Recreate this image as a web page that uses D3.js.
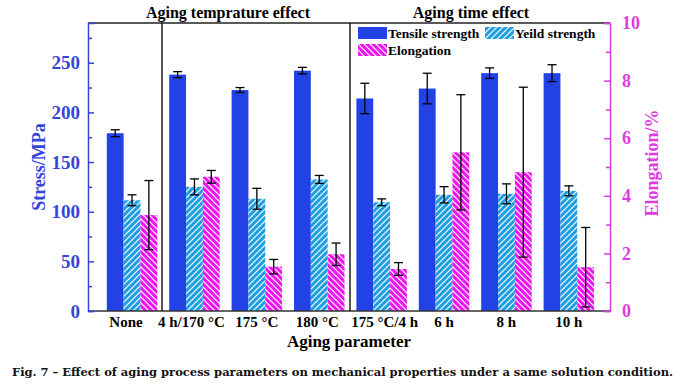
<!DOCTYPE html>
<html>
<head>
<meta charset="utf-8">
<script src="https://cdn.jsdelivr.net/npm/d3@7"></script>
<style>
  body { margin: 0; background: #fff; }
  svg { display: block; font-family: "Liberation Serif", "Times New Roman", serif; font-weight: bold; }
</style>
</head>
<body>
<svg id="chart" width="682" height="386"></svg>
<script>
  // ---- data ----
  const categories = ["None", "4 h/170 °C", "175 °C", "180 °C", "175 °C/4 h", "6 h", "8 h", "10 h"];
  const tensile = [179, 238, 222.5, 242, 214, 224, 239.5, 239.5];
  const tensileErr = [3.5, 3, 2.5, 3.3, 15.3, 15.4, 5.3, 8.5];
  const yieldS = [111.5, 125, 113, 132.5, 109.5, 117, 118, 121];
  const yieldErr = [5.5, 8, 10.5, 4, 3.4, 8.2, 10, 5];
  const elong = [3.33, 4.66, 1.54, 1.97, 1.46, 5.51, 4.82, 1.52];
  const elongErr = [1.2, 0.22, 0.25, 0.39, 0.22, 2.0, 2.95, 1.38];
  const leftTicks = [0, 50, 100, 150, 200, 250];
  const leftMinor = [25, 75, 125, 175, 225, 275];
  const rightTicks = [0, 2, 4, 6, 8, 10];
  const rightMinor = [1, 3, 5, 7, 9];

  const BLUE = "#2342E6";
  const LBLUE = "#1E9FE2";
  const MAG = "#EE16EE";
  const LEFT_TXT = "#3346D8";
  const RIGHT_TXT = "#E03BE0";

  const P = { l: 88, r: 610, t: 23, b: 311 };
  const svg = d3.select("#chart");

  // hatch patterns
  const defs = svg.append("defs");
  function hatch(id, color, dir) {
    const p = defs.append("pattern")
      .attr("id", id)
      .attr("patternUnits", "userSpaceOnUse")
      .attr("width", 6).attr("height", 6);
    p.append("rect").attr("width", 6).attr("height", 6).attr("fill", color);
    const d = dir === "/"
      ? "M-1,1 l2,-2 M0,6 l6,-6 M5,7 l2,-2"
      : "M-1,5 l2,2 M0,0 l6,6 M5,-1 l2,2";
    p.append("path").attr("d", d).attr("stroke", "#fff").attr("stroke-width", 1.2);
  }
  hatch("hYield", LBLUE, "/");
  hatch("hElong", MAG, "\\");

  const x = d3.scaleBand().domain(categories).range([100.8, 600]).padding(0);
  const sub = d3.scaleBand().domain(["t", "y", "e"]).range([6, 56.5]);
  const yL = d3.scaleLinear().domain([0, 290]).range([P.b, P.t]);
  const yR = d3.scaleLinear().domain([0, 10]).range([P.b, P.t]);

  const series = [
    { key: "t", vals: tensile, err: tensileErr, y: yL, fill: BLUE },
    { key: "y", vals: yieldS, err: yieldErr, y: yL, fill: "url(#hYield)" },
    { key: "e", vals: elong, err: elongErr, y: yR, fill: "url(#hElong)" }
  ];

  const gBars = svg.append("g");
  series.forEach((s) => {
    const rows = categories.map((c, i) => ({ c, v: s.vals[i], e: s.err[i] }));
    gBars.append("g").selectAll("rect")
      .data(rows)
      .join("rect")
      .attr("x", (d) => x(d.c) + sub(s.key))
      .attr("width", sub.bandwidth())
      .attr("y", (d) => s.y(d.v))
      .attr("height", (d) => P.b - s.y(d.v))
      .attr("fill", s.fill);

    // error bars
    const eb = gBars.append("g").attr("stroke", "#000").attr("stroke-width", 1.3);
    rows.forEach((d) => {
      const cx = x(d.c) + sub(s.key) + sub.bandwidth() / 2;
      const y1 = s.y(d.v + d.e), y2 = s.y(Math.max(0, d.v - d.e));
      eb.append("line").attr("x1", cx).attr("x2", cx).attr("y1", y1).attr("y2", y2);
      eb.append("line").attr("x1", cx - 4.5).attr("x2", cx + 4.5).attr("y1", y1).attr("y2", y1);
      eb.append("line").attr("x1", cx - 4.5).attr("x2", cx + 4.5).attr("y1", y2).attr("y2", y2);
    });
  });

  // frame: top + bottom + dividers
  svg.append("line").attr("x1", P.l).attr("x2", P.r).attr("y1", P.t).attr("y2", P.t)
    .attr("stroke", "#222").attr("stroke-width", 1.5);
  svg.append("line").attr("x1", P.l).attr("x2", P.r).attr("y1", P.b).attr("y2", P.b)
    .attr("stroke", "#333").attr("stroke-width", 1.5);
  [162, 350].forEach((xx) => {
    svg.append("line").attr("x1", xx).attr("x2", xx).attr("y1", P.t).attr("y2", P.b)
      .attr("stroke", "#000").attr("stroke-width", 1.3);
  });

  // left axis
  const gl = svg.append("g").attr("transform", `translate(${P.l},0)`)
    .call(d3.axisLeft(yL).tickValues(leftTicks).tickSize(-6).tickPadding(8));
  gl.append("g").call(d3.axisLeft(yL).tickValues(leftMinor).tickSize(-4).tickFormat(""))
    .select(".domain").remove();
  gl.selectAll("path,line").attr("stroke", LEFT_TXT).attr("stroke-width", 1.5);
  gl.selectAll("text").attr("fill", LEFT_TXT).attr("font-size", 19);

  // right axis
  const gr = svg.append("g").attr("transform", `translate(${P.r},0)`)
    .call(d3.axisRight(yR).tickValues(rightTicks).tickSize(-6).tickPadding(12));
  gr.append("g").call(d3.axisRight(yR).tickValues(rightMinor).tickSize(-4).tickFormat(""))
    .select(".domain").remove();
  gr.selectAll("path,line").attr("stroke", RIGHT_TXT).attr("stroke-width", 1.5);
  gr.selectAll("text").attr("fill", RIGHT_TXT).attr("font-size", 18);

  // bottom category labels
  const gb = svg.append("g").attr("transform", `translate(0,${P.b})`)
    .call(d3.axisBottom(x).tickSize(0).tickPadding(5));
  gb.select(".domain").remove();
  gb.selectAll("text").attr("fill", "#000").attr("font-size", 15)
    .attr("dx", (d, i) => [-6, -3, 0, -2, 3, 0, 0, 0][i]);

  // the axis generator sets a sans font on its groups; fall back to the svg font
  svg.selectAll("g").attr("font-family", null).attr("font-size", null);

  // axis titles
  svg.append("text").attr("transform", "translate(45,167) rotate(-90)")
    .attr("text-anchor", "middle").attr("fill", LEFT_TXT).attr("font-size", 18)
    .text("Stress/MPa");
  svg.append("text").attr("transform", "translate(658,163) rotate(-90)")
    .attr("text-anchor", "middle").attr("fill", RIGHT_TXT).attr("font-size", 18)
    .text("Elongation/%");
  svg.append("text").attr("x", 349).attr("y", 347).attr("text-anchor", "middle")
    .attr("font-size", 17).text("Aging parameter");

  // section titles
  svg.append("text").attr("x", 228).attr("y", 18).attr("text-anchor", "middle")
    .attr("font-size", 16).text("Aging temprature effect");
  svg.append("text").attr("x", 471).attr("y", 18).attr("text-anchor", "middle")
    .attr("font-size", 16).text("Aging time effect");

  // legend
  const legend = [
    { label: "Tensile strength", fill: BLUE, x: 358, y: 27 },
    { label: "Yeild strength", fill: "url(#hYield)", x: 485, y: 27 },
    { label: "Elongation", fill: "url(#hElong)", x: 358, y: 44 }
  ];
  const lg = svg.append("g").selectAll("g").data(legend).join("g")
    .attr("transform", (d) => `translate(${d.x},${d.y})`);
  lg.append("rect").attr("width", 29).attr("height", 12).attr("fill", (d) => d.fill);
  lg.append("text").attr("x", 30).attr("y", 11).attr("font-size", 13.5).attr("fill", "#000")
    .text((d) => d.label);

  // caption
  svg.append("text").attr("x", 12).attr("y", 376)
    .style("font-family", "'DejaVu Serif', serif").attr("font-size", 10.5)
    .attr("textLength", 661).attr("lengthAdjust", "spacingAndGlyphs")
    .attr("fill", "#111")
    .text("Fig. 7 \u2013 Effect of aging process parameters on mechanical properties under a same solution condition.");
</script>
</body>
</html>
